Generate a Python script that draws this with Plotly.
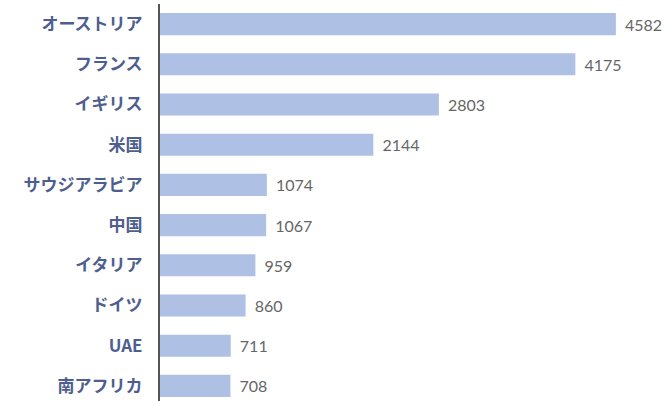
import plotly.graph_objects as go

countries = ["オーストリア", "フランス", "イギリス", "米国", "サウジアラビア",
             "中国", "イタリア", "ドイツ", "UAE", "南アフリカ"]
values = [4582, 4175, 2803, 2144, 1074, 1067, 959, 860, 711, 708]

fig = go.Figure(go.Bar(
    x=values,
    y=countries,
    orientation="h",
    marker=dict(color="#aec0e4", line=dict(width=0)),
    text=[f"\u00a0\u2009{v}" for v in values],
    textposition="outside",
    textfont=dict(family="Lato, 'Noto Sans CJK JP'", size=16, color="#666666"),
    cliponaxis=False,
    constraintext="none",
    width=0.55,
))

fig.update_layout(
    width=668, height=401,
    margin=dict(l=160, r=0, t=4, b=0),
    plot_bgcolor="white", paper_bgcolor="white",
    showlegend=False,
    font=dict(family="'Noto Sans CJK JP', Lato", color="#4d5e8f"),
)
fig.update_xaxes(range=[0, 5106], visible=False, showgrid=False, zeroline=False,
                 automargin=False)
fig.update_yaxes(
    categoryorder="array", categoryarray=countries,
    range=[9.376, -0.5],
    showline=True, linecolor="#555555", linewidth=2,
    ticks="", showgrid=False, automargin=False,
    tickfont=dict(family="'Noto Sans CJK JP', Lato", size=17, color="#4d5e8f", weight="bold"),
    ticklabelstandoff=12,
)

fig.write_html("out.html",
               config={"displayModeBar": False},
               post_script="document.body.style.margin='0';document.body.style.overflow='hidden';")
